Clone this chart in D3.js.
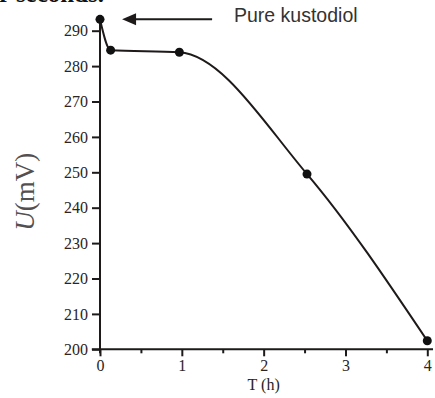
<!DOCTYPE html>
<html>
<head>
<meta charset="utf-8">
<script src="https://cdn.jsdelivr.net/npm/d3@7"></script>
<style>
  body { margin: 0; background: #fff; }
  svg { display: block; }
</style>
</head>
<body>
<div id="chart"></div>
<script>
// data
const tHours = [0, 0.13, 0.97, 2.53, 4];
const uValues = [293.2, 284.5, 283.9, 249.5, 202.4];
const yTicks = [200, 210, 220, 230, 240, 250, 260, 270, 280, 290];
const xTicks = [0, 1, 2, 3, 4];
const xMinor = [0.5, 1.5, 2.5, 3.5];
const noteLabel = 'Pure kustodiol';
const captionTail = 'r seconds.';

const width = 435, height = 398;
const ink = '#1e1a1a';

const svg = d3.select('#chart').append('svg')
  .attr('width', width)
  .attr('height', height);

const x = d3.scaleLinear().domain([0, 4]).range([100, 427.3]);
const y = d3.scaleLinear().domain([200, 290]).range([349.3, 30.7]);

// clipped caption from the page above
svg.append('text')
  .attr('x', -1)
  .attr('y', 2)
  .attr('font-family', 'Liberation Serif, Times New Roman, serif')
  .attr('font-weight', 'bold')
  .attr('font-size', 25)
  .attr('fill', '#111')
  .text(captionTail);

// axes lines
svg.append('line')
  .attr('x1', x(0)).attr('x2', x(0))
  .attr('y1', y(293.9)).attr('y2', y(198.9))
  .attr('stroke', ink).attr('stroke-width', 2);
svg.append('line')
  .attr('x1', x(-0.1)).attr('x2', x(4.07))
  .attr('y1', y(200)).attr('y2', y(200))
  .attr('stroke', ink).attr('stroke-width', 2);

// y axis ticks
const yAxis = d3.axisLeft(y).tickValues(yTicks).tickSize(8).tickPadding(4);
const gy = svg.append('g')
  .attr('transform', 'translate(' + x(0) + ',0)')
  .call(yAxis);
gy.select('.domain').remove();
gy.selectAll('.tick line').attr('stroke', ink).attr('stroke-width', 2);
gy.selectAll('.tick text')
  .attr('font-family', 'Liberation Serif, Times New Roman, serif')
  .attr('font-size', 16)
  .attr('fill', '#2a2424');

// x axis ticks
const xAxis = d3.axisBottom(x).tickValues(xTicks).tickSize(7).tickPadding(3)
  .tickFormat(d3.format('d'));
const gx = svg.append('g')
  .attr('transform', 'translate(0,' + y(200) + ')')
  .call(xAxis);
gx.select('.domain').remove();
gx.selectAll('.tick line').attr('stroke', ink).attr('stroke-width', 2);
gx.selectAll('.tick text')
  .attr('font-family', 'Liberation Serif, Times New Roman, serif')
  .attr('font-size', 16)
  .attr('fill', '#2a2424');

const xAxisMinor = d3.axisBottom(x).tickValues(xMinor).tickSize(4).tickFormat('');
const gxm = svg.append('g')
  .attr('transform', 'translate(0,' + y(200) + ')')
  .call(xAxisMinor);
gxm.select('.domain').remove();
gxm.selectAll('.tick line').attr('stroke', ink).attr('stroke-width', 2);

// axis titles
svg.append('text')
  .attr('x', x(2))
  .attr('y', 390)
  .attr('text-anchor', 'middle')
  .attr('font-family', 'Liberation Serif, Times New Roman, serif')
  .attr('font-size', 16)
  .attr('fill', '#2a2424')
  .text('T (h)');

const yLabel = svg.append('text')
  .attr('transform', 'translate(34,' + y(244.5) + ') rotate(-90)')
  .attr('text-anchor', 'middle')
  .attr('font-family', 'Liberation Serif, Times New Roman, serif')
  .attr('font-size', 27)
  .attr('fill', '#555050');
yLabel.append('tspan').attr('font-style', 'italic').text('U');
yLabel.append('tspan').text('(mV)');

// data curve
const pts = tHours.map((t, i) => ({ t: t, u: uValues[i] }));
const line = d3.line()
  .x(d => x(d.t))
  .y(d => y(d.u))
  .curve(d3.curveMonotoneX);

svg.append('path')
  .attr('d', line(pts))
  .attr('fill', 'none')
  .attr('stroke', ink)
  .attr('stroke-width', 2);

svg.selectAll('circle.pt')
  .data(pts)
  .enter()
  .append('circle')
  .attr('class', 'pt')
  .attr('cx', d => x(d.t))
  .attr('cy', d => y(d.u))
  .attr('r', 4.5)
  .attr('fill', '#111');

// annotation arrow to first point
const arrowY = y(uValues[0]);
const tipX = x(0.27);
svg.append('line')
  .attr('x1', tipX + 10).attr('x2', x(1.37))
  .attr('y1', arrowY).attr('y2', arrowY)
  .attr('stroke', ink).attr('stroke-width', 2);
svg.append('path')
  .attr('d', 'M' + tipX + ',' + arrowY + 'L' + (tipX + 14) + ',' + (arrowY - 6) +
    'L' + (tipX + 14) + ',' + (arrowY + 6) + 'Z')
  .attr('fill', ink);

svg.append('text')
  .attr('x', 234)
  .attr('y', 22)
  .attr('font-family', 'Liberation Sans, Arial, sans-serif')
  .attr('font-size', 19.5)
  .attr('fill', '#333')
  .text(noteLabel);
</script>
</body>
</html>
